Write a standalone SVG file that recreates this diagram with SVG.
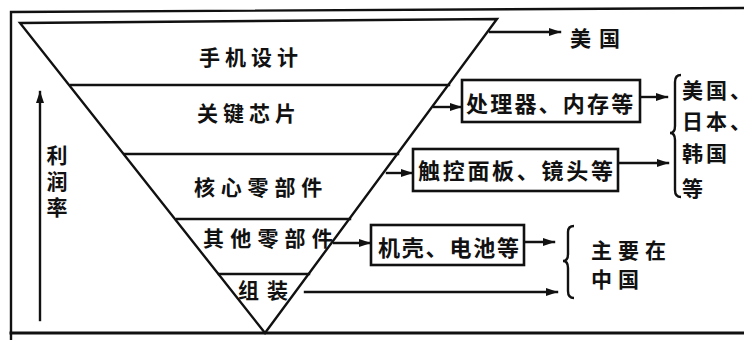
<svg xmlns="http://www.w3.org/2000/svg" width="744" height="340" viewBox="0 0 744 340">
<style>
.ln{stroke:#111;stroke-width:2.4;fill:none;stroke-linecap:square}
.bx{stroke:#111;stroke-width:2.6;fill:#fff}
.t{font-family:"Noto Sans CJK SC","Noto Sans",sans-serif;font-weight:700;fill:#111;font-size:21px}
.b{font-size:22px}
</style>
<defs>
<marker id="ah" markerWidth="12" markerHeight="10" refX="11" refY="5" orient="auto" markerUnits="userSpaceOnUse">
<path d="M0,1 L12,5 L0,9 Z" fill="#111"/>
</marker>
</defs>
<rect width="744" height="340" fill="#fff"/>
<g id="frame">
<path class="ln" d="M744,8 L11,12 L11,340"/>
<path class="ln" d="M11,333 L744,333" style="stroke-width:3"/>
</g>
<g id="pyramid">
<path class="ln" d="M20,23 L497,19 L265,333 Z" style="stroke-linejoin:miter"/>
<line class="ln" x1="71" y1="85" x2="449" y2="85"/>
<line class="ln" x1="125" y1="154" x2="398" y2="154"/>
<line class="ln" x1="177" y1="219" x2="350" y2="219"/>
<line class="ln" x1="219" y1="274" x2="309" y2="274"/>
</g>
<g id="layer-design"><text class="t" x="199" y="65" letter-spacing="5">手机设计</text></g>
<g id="layer-chip"><text class="t" x="197" y="121" letter-spacing="5">关键芯片</text></g>
<g id="layer-core"><text class="t" x="194" y="195" letter-spacing="5.8">核心零部件</text></g>
<g id="layer-other"><text class="t" x="203" y="246" letter-spacing="6.2">其他零部件</text></g>
<g id="layer-assembly"><text class="t" x="238" y="298" letter-spacing="8">组装</text></g>
<g id="profit-axis">
<line class="ln" x1="40" y1="320" x2="40" y2="92" marker-end="url(#ah)"/>
<text class="t" x="57" y="145" style="writing-mode:vertical-rl" letter-spacing="5">利润率</text>
</g>
<g id="box-processor">
<rect class="bx" x="462" y="80" width="178" height="42"/>
<text class="t b" x="466" y="112" letter-spacing="2.2">处理器、内存等</text>
</g>
<g id="box-touch">
<rect class="bx" x="413" y="149" width="205" height="42"/>
<text class="t b" x="418" y="179" letter-spacing="2.7">触控面板、镜头等</text>
</g>
<g id="box-shell">
<rect class="bx" x="371" y="225" width="153" height="40"/>
<text class="t b" x="378" y="256" letter-spacing="1.8">机壳、电池等</text>
</g>
<g id="region-usa"><text class="t" x="570" y="46" letter-spacing="8">美国</text></g>
<g id="region-usjpkr">
<path class="ln" d="M681,75 Q675,75 675,82 L675,126 Q675,133 670,133 Q675,133 675,140 L675,190 Q675,197 681,197" style="stroke-linecap:butt"/>
<text class="t" x="682" y="98" letter-spacing="3">美国、</text>
<text class="t" x="682" y="129" letter-spacing="3">日本、</text>
<text class="t" x="682" y="161" letter-spacing="3">韩国</text>
<text class="t" x="682" y="196">等</text>
</g>
<g id="region-china">
<path class="ln" d="M574,226 Q568,226 568,232 L568,254 Q568,261 563,261 Q568,261 568,268 L568,291 Q568,298 574,298" style="stroke-linecap:butt"/>
<text class="t" x="591" y="258" letter-spacing="6">主要在</text>
<text class="t" x="591" y="287" letter-spacing="6">中国</text>
</g>
<g id="connectors">
<line class="ln" x1="490" y1="32" x2="560" y2="32" marker-end="url(#ah)"/>
<line class="ln" x1="434" y1="107" x2="461" y2="107" marker-end="url(#ah)"/>
<line class="ln" x1="641" y1="97" x2="667" y2="97" marker-end="url(#ah)"/>
<line class="ln" x1="387" y1="173" x2="412" y2="173" marker-end="url(#ah)"/>
<line class="ln" x1="619" y1="163" x2="668" y2="163" marker-end="url(#ah)"/>
<line class="ln" x1="334" y1="243" x2="370" y2="243" marker-end="url(#ah)"/>
<line class="ln" x1="525" y1="242" x2="554" y2="242" marker-end="url(#ah)"/>
<line class="ln" x1="305" y1="292" x2="557" y2="292" marker-end="url(#ah)"/>
</g>
</svg>
